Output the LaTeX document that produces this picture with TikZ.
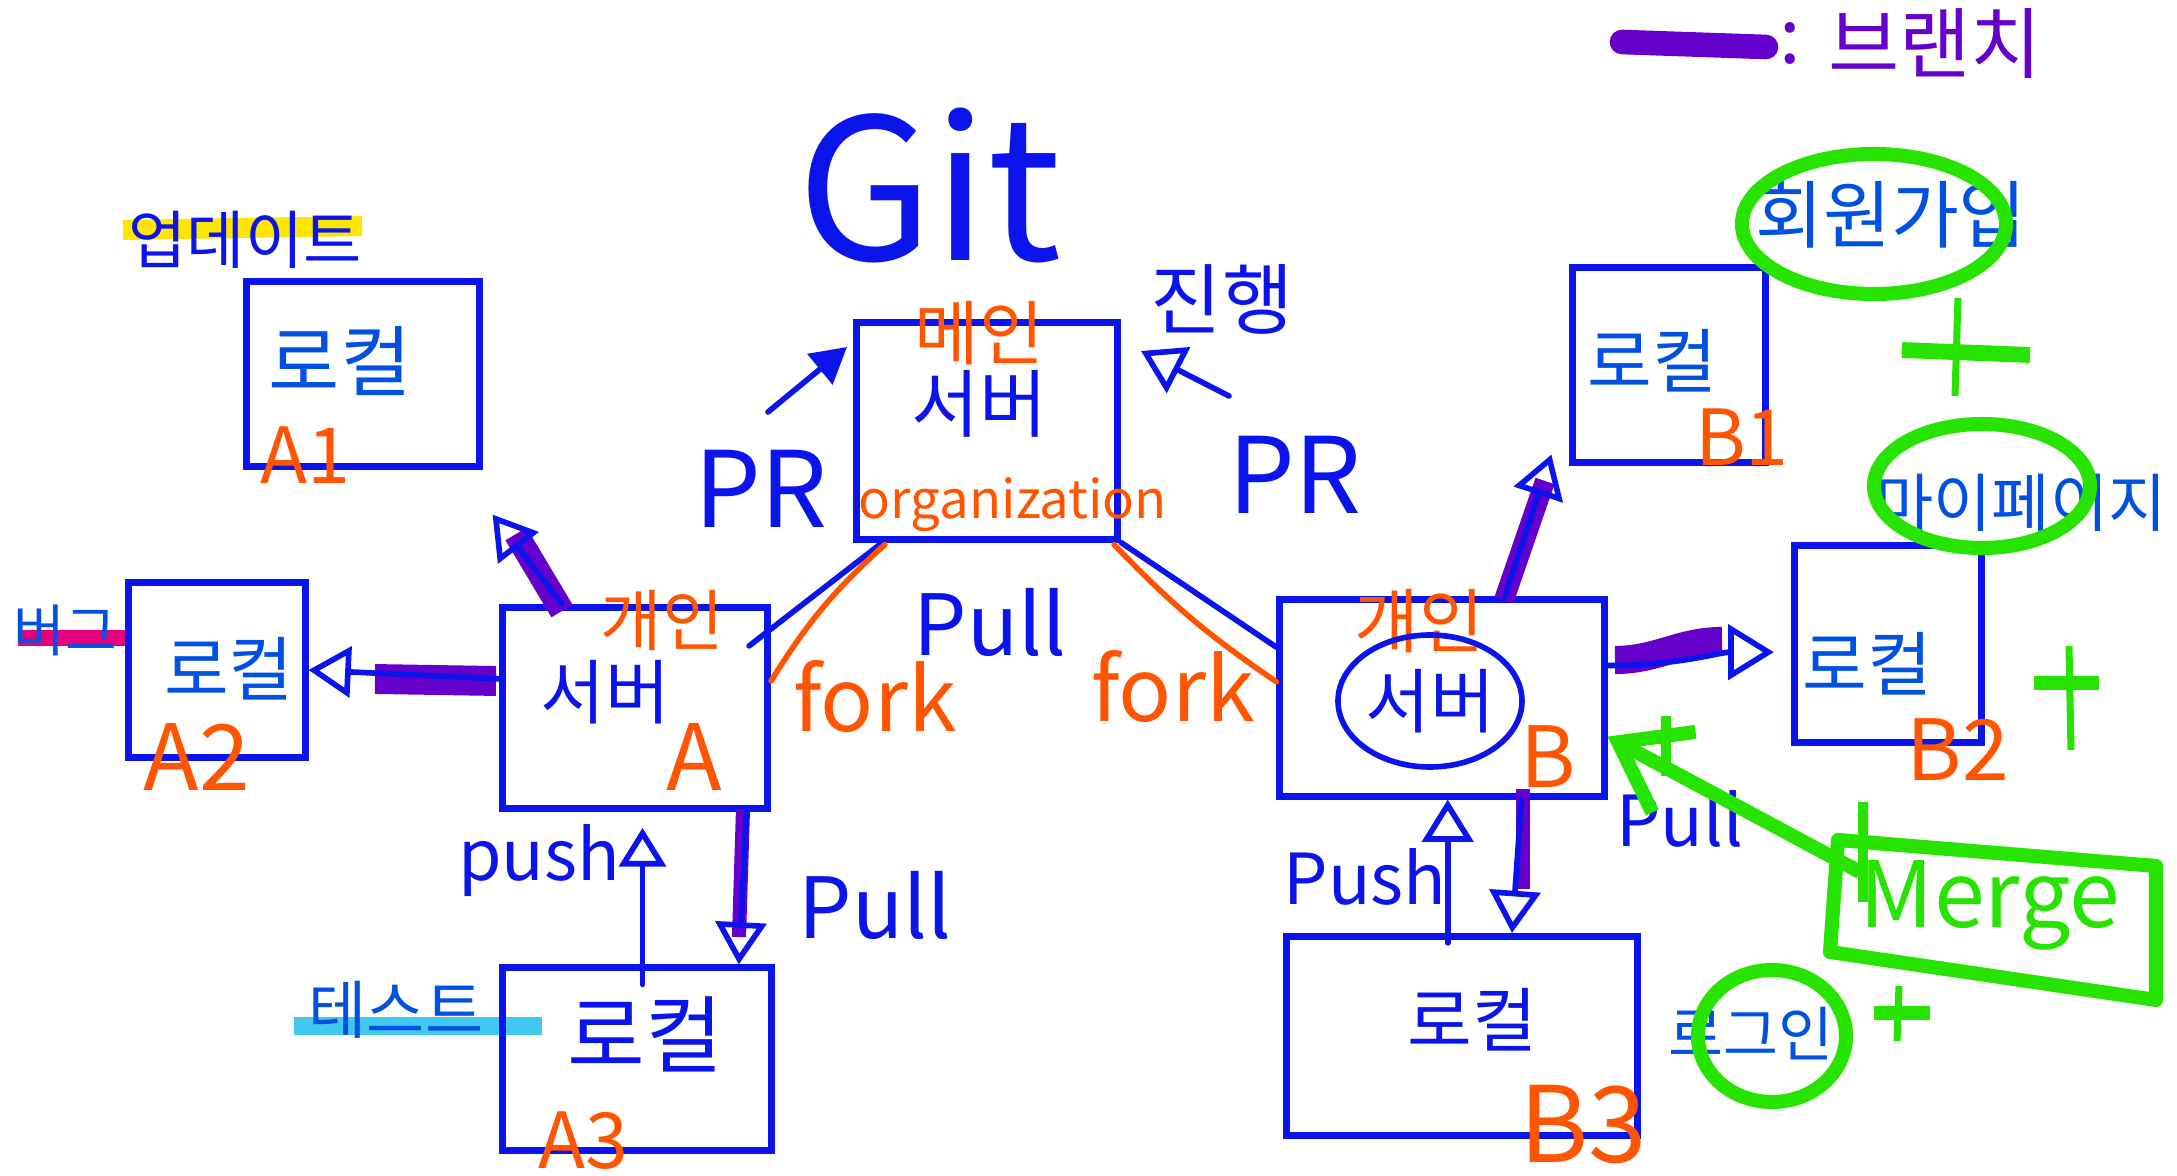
\documentclass[tikz,border=0pt]{standalone}
\usepackage{fontspec}
\setmainfont{Noto Sans CJK KR}
\usepackage{xcolor}
\usetikzlibrary{arrows.meta, positioning, calc}

\definecolor{penblue}{RGB}{10,20,235}
\definecolor{inkblue}{RGB}{0,80,225}
\definecolor{penorange}{RGB}{255,85,0}
\definecolor{penpurple}{RGB}{102,0,204}
\definecolor{pengreen}{RGB}{38,228,0}
\definecolor{hlyellow}{RGB}{255,230,0}
\definecolor{hlpink}{RGB}{230,0,126}
\definecolor{hlcyan}{RGB}{64,200,240}

\newcommand{\penfs}[1]{\fontsize{#1}{#1}\selectfont}

\tikzset{
  box/.style={draw=penblue, line width=2pt, inner sep=0pt},
  conn/.style={draw=penblue, line width=1.6pt, line cap=round},
  band/.style={draw=penpurple, line width=#1},
  ring/.style={draw=pengreen, line width=4pt},
  tag/.style={text=penorange, font=\penfs{#1}, inner sep=0pt},
  word/.style={text=penblue, font=\penfs{#1}, inner sep=0pt},
  lword/.style={text=inkblue, font=\penfs{#1}, inner sep=0pt},
  opentip/.style={-{Triangle[open, length=#1, width=1.2*#1]}}
}

\begin{document}
\begin{tikzpicture}[x=0.01cm, y=-0.01cm]
  \useasboundingbox (0,0) rectangle (2177,1176);

  % Legend
  \draw[band=7pt, line cap=round] (1622,42) -- (1766,47);
  \node[text=penpurple, font=\penfs{22}] (colon) at (1790,44) {:};
  \node[text=penpurple, font=\penfs{22}] (legend) at (1935,44) {브랜치};

  % Title
  \node[word=56, text depth=0pt] (git) at (930,184) {Git};

  % Highlights
  \draw[hlyellow, line width=5.7pt] (123,230) -- (362,226);
  \draw[hlpink, line width=4.5pt] (18,638) -- (125,638);
  \draw[hlcyan, line width=5pt] (294,1026) -- (542,1026);

  % Boxes
  \node[box, minimum width=2.32cm, minimum height=1.84cm] (A1) at (363,374) {};
  \node[box, minimum width=1.76cm, minimum height=1.74cm] (A2) at (217,670) {};
  \node[box, minimum width=2.65cm, minimum height=2.01cm] (srvA) at (635,708) {};
  \node[box, minimum width=2.68cm, minimum height=1.82cm] (A3) at (637,1059) {};
  \node[box, minimum width=2.61cm, minimum height=2.16cm] (main) at (987,431) {};
  \node[box, minimum width=3.24cm, minimum height=1.96cm] (srvB) at (1442,698) {};
  \node[box, minimum width=1.92cm, minimum height=1.94cm] (B1) at (1669,365) {};
  \node[box, minimum width=1.86cm, minimum height=1.97cm] (B2) at (1888,644) {};
  \node[box, minimum width=3.50cm, minimum height=1.99cm] (B3) at (1462,1036) {};

  % Box texts
  \node[word=18] (upd) at (245,240) {업데이트};
  \node[lword=22] (locA1) at (340,361) {로컬};
  \node[tag=22] (tA1) at (305,455) {A1};
  \node[lword=16] (bug) at (65,630) {버그};
  \node[lword=20] (locA2) at (229,669) {로컬};
  \node[tag=26] (tA2) at (197,757) {A2};
  \node[tag=19] (ownA) at (662,620) {개인};
  \node[word=20] (svA) at (605,692) {서버};
  \node[tag=26] (tA) at (694,757) {A};
  \node[word=24] (locA3) at (645,1034) {로컬};
  \node[tag=22] (tA3) at (583,1141) {A3};
  \node[lword=18] (test) at (396,1010) {테스트};
  \node[tag=20] (mainlbl) at (979,333) {메인};
  \node[word=21] (svM) at (979,404) {서버};
  \node[tag=15] (org) at (1013,505) {organization};
  \node[tag=20] (ownB) at (1419,621) {개인};
  \node[word=20] (svB) at (1430,701) {서버};
  \draw[conn] (svB) ellipse [x radius=92, y radius=66];
  \node[tag=24] (tB) at (1548,757) {B};
  \node[lword=20] (locB1) at (1652,361) {로컬};
  \node[tag=22] (tB1) at (1742,437) {B1};
  \node[lword=20] (locB2) at (1867,664) {로컬};
  \node[tag=24] (tB2) at (1958,750) {B2};
  \node[word=20] (locB3) at (1472,1020) {로컬};
  \node[tag=30] (tB3) at (1583,1125) {B3};

  % Connector labels
  \node[word=30] (prL) at (761,489) {PR};
  \node[word=30] (prR) at (1295,475) {PR};
  \node[word=22] (prog) at (1222,299) {진행};
  \node[word=24] (pullM) at (990,622) {Pull};
  \node[tag=25] (forkL) at (875,697) {fork};
  \node[tag=25] (forkR) at (1173,687) {fork};
  \node[word=20] (pushA) at (539,861) {push};
  \node[word=24] (pullA) at (875,905) {Pull};
  \node[word=20] (pushB) at (1365,877) {Push};
  \node[word=20] (pullB) at (1680,819) {Pull};

  % Branch bands
  \draw[band=7pt] (562,611) -- (516,534);
  \draw[band=8.5pt] (375,679) -- (496,681);
  \draw[band=4pt] (743,809) -- (739,937);
  \draw[band=5.7pt] (1504,600) -- (1545,481);
  \draw[band=8pt] (1615,660) to[out=0, in=180] (1722,641);
  \draw[band=4pt] (1523,789) -- (1523,889);

  % Server A links
  \draw[conn, opentip=12pt] ([xshift=0.63cm]srvA.north west) -- ([xshift=0.1cm, yshift=-0.45cm]A1.south east);
  \draw[conn, opentip=12pt] ($(srvA.north west)!0.36!(srvA.south west)$) -- ($(A2.north east)!0.5!(A2.south east)$);
  \coordinate (pushAend) at ($(A3.north west)!0.52!(A3.north east)$);
  \draw[conn, opentip=11pt, shorten >=4.5pt] ([yshift=-0.2cm]pushAend) -- (pushAend |- srvA.south);
  \draw[conn, opentip=12pt] ($(srvA.south west)!0.91!(srvA.south east)$) -- ($(A3.north west)!0.87!(A3.north east)$);

  % Pull requests
  \coordinate (prAtail) at (768,412);
  \coordinate (prAtip) at (847,347);
  \draw[conn, -{Triangle[length=10pt, width=11pt]}] (prAtail) -- (prAtip);
  \coordinate (prBtail) at (1229,396);
  \coordinate (prBtip) at (1141,351);
  \draw[conn, opentip=12pt] (prBtail) -- (prBtip);

  % Forks
  \draw[conn] ([xshift=-0.22cm, yshift=-0.42cm]srvA.north east) -- ([xshift=0.32cm, yshift=0.02cm]main.south west);
  \draw[conn, penorange] ($(srvA.north east)!0.37!(srvA.south east)$) to[bend left=8] ([xshift=0.32cm, yshift=-0.02cm]main.south west);
  \draw[conn] (main.south east) -- ($(srvB.north west)!0.25!(srvB.south west)$);
  \draw[conn, penorange] ([xshift=-0.07cm, yshift=-0.02cm]main.south east) to[bend right=6] ($(srvB.north west)!0.42!(srvB.south west)$);

  % Server B links
  \draw[conn, opentip=12pt] ($(srvB.north west)!0.69!(srvB.north east)$) -- ([xshift=-0.18cm, yshift=0.11cm]B1.south west);
  \draw[conn, opentip=13pt, shorten >=5pt] ($(srvB.north east)!0.34!(srvB.south east)$) to[out=0, in=180] ($(B2.north west)!0.54!(B2.south west)$);
  \coordinate (pushBend) at ($(B3.north west)!0.46!(B3.north east)$);
  \draw[conn, opentip=12pt] ([yshift=-0.1cm]pushBend) -- (pushBend |- srvB.south);
  \draw[conn, opentip=12pt] ($(srvB.south west)!0.74!(srvB.south east)$) -- ($(B3.north west)!0.64!(B3.north east)$);

  % Features
  \node[lword=21] (signup) at (1891,215) {회원가입};
  \draw[ring] (1874,224) ellipse [x radius=132, y radius=70];
  \node[lword=18] (mypage) at (2021,503) {마이페이지};
  \draw[ring] (1982,486) ellipse [x radius=108, y radius=62];
  \node[lword=17] (login) at (1751,1034) {로그인};
  \draw[ring] (1772,1036) ellipse [x radius=74, y radius=66];

  % Plus signs
  \draw[pengreen, line width=4.5pt] (1902,350) -- (2030,355);
  \draw[pengreen, line width=2pt] (1958,298) -- (1955,396);
  \draw[pengreen, line width=4pt] (2034,683) -- (2099,683);
  \draw[pengreen, line width=2pt] (2069,646) -- (2071,750);
  \draw[pengreen, line width=4pt] (1874,1013) -- (1930,1013);
  \draw[pengreen, line width=2pt] (1899,986) -- (1897,1041);

  % Merge
  \node[text=pengreen, font=\penfs{26}, inner sep=0pt] (merge) at (1990,905) {Merge};
  \coordinate (mTL) at (1838,840);
  \coordinate (mTR) at (2156,866);
  \coordinate (mBR) at (2156,1000);
  \coordinate (mBL) at (1830,952);
  \draw[ring, line join=round] (mTL) -- (mTR) -- (mBR) -- (mBL) -- cycle;
  \draw[pengreen, line width=3pt] (1863,802) -- (1863,902);
  \coordinate (mergetail) at (1860,872);
  \draw[ring, -{Straight Barb[length=18pt, width=26pt]}] (mergetail) -- ($(srvB.north east)!0.69!(srvB.south east)$);
  \draw[pengreen, line width=3pt] (1666,716) -- (1666,776);
\end{tikzpicture}
\end{document}
